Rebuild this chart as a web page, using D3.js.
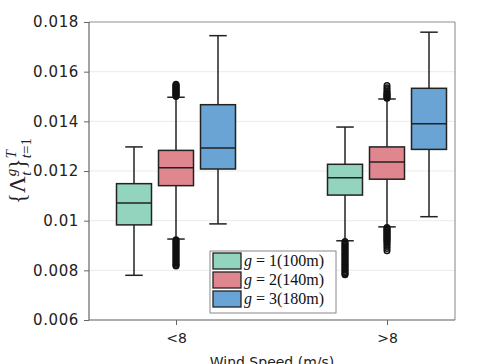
<!DOCTYPE html>
<html>
<head>
<meta charset="utf-8">
<script src="https://cdn.jsdelivr.net/npm/d3@7"></script>
<style>
  body { margin: 0; background: #fff; }
  svg { display: block; }
</style>
</head>
<body>
<div id="chart"></div>
<script>
// data
const categories = ["<8", ">8"];
const gValues = [1, 2, 3];
const heights = ["100m", "140m", "180m"];
const colors = ["#92d4be", "#e0868f", "#69a4d5"];

// per category, per g
const whiskLow  = [[0.0078, 0.00926, 0.00987], [0.00919, 0.00975, 0.01016]];
const q1        = [[0.00983, 0.01141, 0.01208], [0.01103, 0.01167, 0.01287]];
const medians   = [[0.01071, 0.01213, 0.01293], [0.01173, 0.01236, 0.0139]];
const q3        = [[0.01149, 0.01283, 0.01467], [0.01227, 0.01297, 0.01533]];
const whiskHigh = [[0.01297, 0.01497, 0.01745], [0.01377, 0.0149, 0.01759]];

const fliers = [
  [[],
   [0.01500, 0.01503, 0.01506, 0.0151, 0.01513, 0.01516, 0.0152, 0.01523, 0.01526, 0.0153,
    0.01533, 0.01536, 0.0154, 0.01543, 0.01546, 0.01549,
    0.00923, 0.0092, 0.00915, 0.0091, 0.00905, 0.0090, 0.00895, 0.0089, 0.00885, 0.0088,
    0.00875, 0.0087, 0.00865, 0.0086, 0.00855, 0.0085, 0.00845, 0.0084, 0.00835, 0.0083,
    0.00825, 0.0082, 0.00817],
   []],
  [[0.00916, 0.0091, 0.00905, 0.0090, 0.00895, 0.0089, 0.00885, 0.0088, 0.00875, 0.0087,
    0.00865, 0.0086, 0.00855, 0.0085, 0.00845, 0.0084, 0.00835, 0.0083, 0.00825, 0.0082,
    0.00815, 0.0081, 0.00805, 0.0080, 0.00795, 0.0079, 0.00785, 0.00782],
   [0.01493, 0.01496, 0.015, 0.01503, 0.01507, 0.0151, 0.01515, 0.0152, 0.01528, 0.01535, 0.01544,
    0.00972, 0.00968, 0.00964, 0.0096, 0.00956, 0.00952, 0.00948, 0.00944, 0.0094, 0.00936,
    0.00932, 0.00928, 0.00924, 0.0092, 0.00915, 0.0091, 0.00903, 0.00896, 0.00888, 0.00879],
   []]
];

const yTicks = [0.006, 0.008, 0.01, 0.012, 0.014, 0.016, 0.018];
const yTickLabels = ["0.006", "0.008", "0.01", "0.012", "0.014", "0.016", "0.018"];

const width = 503, height = 364;
const margin = { top: 22, right: 48, bottom: 44, left: 89 };
const plotW = width - margin.left - margin.right;
const plotH = height - margin.top - margin.bottom;

const svg = d3.select("#chart").append("svg")
  .attr("width", width)
  .attr("height", height)
  .style("font-family", "DejaVu Sans, sans-serif");

const g = svg.append("g").attr("transform", `translate(${margin.left},${margin.top})`);

const y = d3.scaleLinear().domain([0.006, 0.018]).range([plotH, 0]);
const x = d3.scalePoint().domain(categories).range([87, 298]);
const xg = d3.scalePoint().domain(gValues).range([-42, 42]);
const boxW = 35;

// grid
g.selectAll(".grid").data(yTicks).enter().append("line")
  .attr("x1", 0).attr("x2", plotW)
  .attr("y1", d => y(d)).attr("y2", d => y(d))
  .attr("stroke", "#ebebeb").attr("stroke-width", 1);

// frame
g.append("line").attr("x1", 0).attr("x2", plotW).attr("y1", 0).attr("y2", 0)
  .attr("stroke", "#999").attr("stroke-width", 1.2);
g.append("line").attr("x1", plotW).attr("x2", plotW).attr("y1", 0).attr("y2", plotH)
  .attr("stroke", "#999").attr("stroke-width", 1.2);

// axes
const yAxis = d3.axisLeft(y).tickValues(yTicks)
  .tickFormat((d, i) => yTickLabels[i]).tickSize(5).tickPadding(5);
const yA = g.append("g").call(yAxis);
const xAxis = d3.axisBottom(x).tickSize(5).tickPadding(8);
const xA = g.append("g").attr("transform", `translate(0,${plotH})`).call(xAxis);
[yA, xA].forEach(a => {
  a.select(".domain").attr("stroke", "#666").attr("stroke-width", 1.2);
  a.selectAll(".tick line").attr("stroke", "#666");
  a.selectAll("text").attr("font-size", 14).attr("fill", "#222")
    .attr("font-family", "DejaVu Sans, sans-serif");
});
yA.selectAll("text").attr("font-size", 15).attr("letter-spacing", 0.6);
yA.select(".domain").attr("d", `M0,${plotH}V0`);
xA.select(".domain").attr("d", `M0,0H${plotW}`);

// boxes
const boxes = [];
categories.forEach((c, ci) => {
  gValues.forEach((gv, gi) => {
    boxes.push({
      cx: x(c) + xg(gv), color: colors[gi],
      lo: whiskLow[ci][gi], q1: q1[ci][gi], med: medians[ci][gi],
      q3: q3[ci][gi], hi: whiskHigh[ci][gi], fl: fliers[ci][gi]
    });
  });
});

const bg = g.selectAll(".box").data(boxes).enter().append("g");
bg.append("line").attr("x1", d => d.cx).attr("x2", d => d.cx)
  .attr("y1", d => y(d.lo)).attr("y2", d => y(d.q1))
  .attr("stroke", "#222").attr("stroke-width", 1.5);
bg.append("line").attr("x1", d => d.cx).attr("x2", d => d.cx)
  .attr("y1", d => y(d.q3)).attr("y2", d => y(d.hi))
  .attr("stroke", "#222").attr("stroke-width", 1.5);
bg.append("line").attr("x1", d => d.cx - boxW / 4).attr("x2", d => d.cx + boxW / 4)
  .attr("y1", d => y(d.lo)).attr("y2", d => y(d.lo))
  .attr("stroke", "#222").attr("stroke-width", 1.5);
bg.append("line").attr("x1", d => d.cx - boxW / 4).attr("x2", d => d.cx + boxW / 4)
  .attr("y1", d => y(d.hi)).attr("y2", d => y(d.hi))
  .attr("stroke", "#222").attr("stroke-width", 1.5);
bg.append("rect").attr("x", d => d.cx - boxW / 2).attr("width", boxW)
  .attr("y", d => y(d.q3)).attr("height", d => y(d.q1) - y(d.q3))
  .attr("fill", d => d.color).attr("stroke", "#222").attr("stroke-width", 1.5);
bg.append("line").attr("x1", d => d.cx - boxW / 2).attr("x2", d => d.cx + boxW / 2)
  .attr("y1", d => y(d.med)).attr("y2", d => y(d.med))
  .attr("stroke", "#222").attr("stroke-width", 1.5);
bg.selectAll("circle").data(d => d.fl.map(v => ({ v, cx: d.cx }))).enter().append("circle")
  .attr("cx", d => d.cx).attr("cy", d => y(d.v)).attr("r", 2.8)
  .attr("fill", "none").attr("stroke", "#111").attr("stroke-width", 1.4);

// legend
const leg = g.append("g").attr("transform", `translate(${210 - margin.left},${251 - margin.top})`);
leg.append("rect").attr("width", 126).attr("height", 62)
  .attr("fill", "#fff").attr("fill-opacity", 0.9).attr("stroke", "#888").attr("stroke-width", 1);
gValues.forEach((gv, i) => {
  const row = leg.append("g").attr("transform", `translate(3,${2 + i * 19})`);
  row.append("rect").attr("width", 28).attr("height", 16)
    .attr("fill", colors[i]).attr("stroke", "#222").attr("stroke-width", 1.3);
  const t = row.append("text").attr("x", 31).attr("y", 13)
    .attr("font-family", "Liberation Serif, serif").attr("font-size", 16).attr("fill", "#111");
  t.append("tspan").attr("font-style", "italic").text("g");
  t.append("tspan").text(` = ${gv}(${heights[i]})`);
});

// x label
svg.append("text").attr("x", margin.left + 183).attr("y", height + 3)
  .attr("text-anchor", "middle").attr("font-size", 14).attr("fill", "#222")
  .text("Wind Speed (m/s)");

// y label {Λ_t^g}_{t=1}^T
const yl = svg.append("text")
  .attr("transform", `translate(25,${margin.top + 149}) rotate(-90)`)
  .attr("text-anchor", "middle")
  .attr("font-family", "Liberation Serif, serif").attr("font-size", 23).attr("fill", "#222");
yl.append("tspan").text("{Λ");
yl.append("tspan").attr("font-size", 15).attr("font-style", "italic").attr("dy", -9).text("g");
yl.append("tspan").attr("font-size", 15).attr("font-style", "italic").attr("dx", -7).attr("dy", 15).text("t");
yl.append("tspan").attr("dy", -6).attr("dx", 2).text("}");
yl.append("tspan").attr("font-size", 15).attr("font-style", "italic").attr("dy", -9).text("T");
yl.append("tspan").attr("font-size", 15).attr("dx", -8).attr("dy", 15)
  .html("<tspan font-style='italic'>t</tspan>=1");
</script>
</body>
</html>
